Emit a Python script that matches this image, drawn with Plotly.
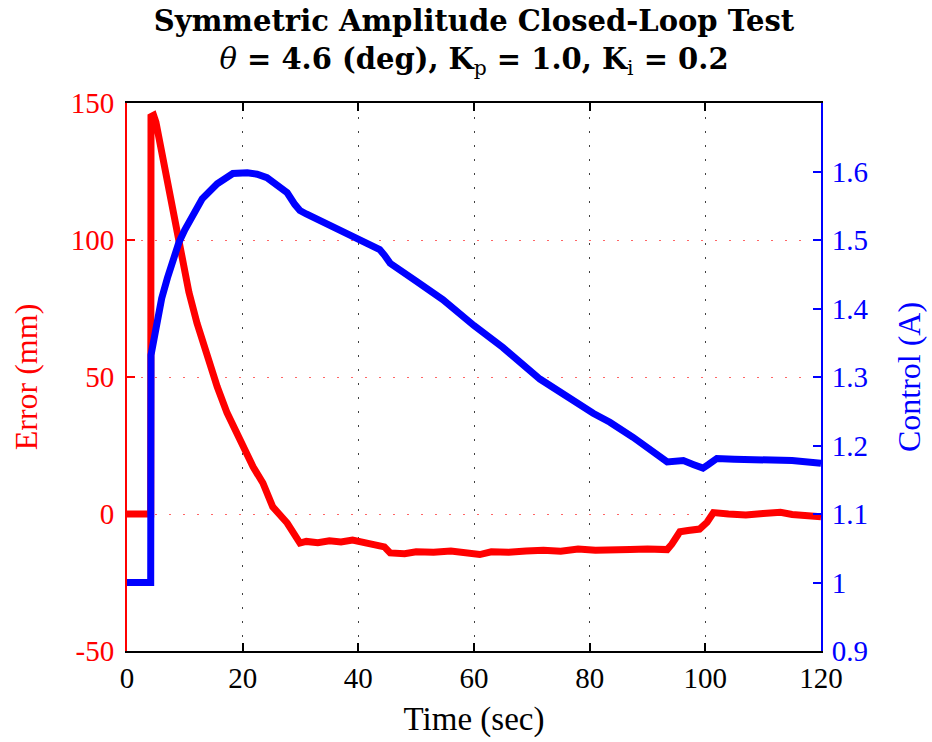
import plotly.graph_objects as go

# ---- data ----
t_err = [0, 4.1, 4.15, 4.6, 5.0, 5.7, 6.9, 8.0, 8.8, 9.7, 10.7, 12.1, 13.8, 15.6,
         17.3, 19.5, 21.8, 23.5, 25.2, 27.7, 29.9, 31, 33, 35, 37, 39, 41, 43,
         44.5, 45.5, 48, 50, 53, 56, 59, 61, 63, 66, 69, 72, 75, 78, 81, 84, 87,
         90, 92.5, 93.4, 94.2, 95.6, 97, 99, 100.3, 101.4, 104, 107, 110, 113,
         115, 118, 120]
err = [0, 0, 145, 145.5, 143, 135.5, 123, 111, 102.5, 93.8, 81, 69.7, 57.3, 46.4,
       36.9, 27, 17.2, 11.3, 2.6, -3.3, -10.6, -10, -10.5, -9.8, -10.2, -9.5,
       -10.4, -10.8, -12, -14.2, -14.5, -13.8, -14, -13.5, -14.2, -14.8, -13.8,
       -14, -13.5, -13.2, -13.6, -12.8, -13.2, -12.8, -13, -12.8, -13, -13, -11,
       -6.5, -6, -5.5, -3, 0.5, 0, -0.4, 0.2, 0.6, -0.2, -1, -1]

t_ctl = [0, 4.1, 4.15, 5.0, 6.0, 7.0, 8.0, 9.0, 10.0, 11.0, 13.0, 15.6, 18.3,
         20.8, 22.5, 24.2, 26, 27.7, 29.0, 29.9, 31, 33.4, 36.8, 40.8, 42.5,
         43.7, 44.5, 45.5, 50, 54.6, 60, 65, 71.4, 76.1, 80.6, 83.5, 87.5, 93.4,
         96.2, 98, 99.6, 100.5, 102, 105, 110, 115, 120]
ctl = [1.0, 1.0, 1.332, 1.375, 1.415, 1.445, 1.472, 1.497, 1.515, 1.53, 1.56,
       1.582, 1.597, 1.598, 1.596, 1.591, 1.58, 1.569, 1.552, 1.543, 1.538,
       1.528, 1.514, 1.499, 1.492, 1.486, 1.478, 1.466, 1.44, 1.413, 1.375,
       1.343, 1.297, 1.270, 1.247, 1.234, 1.212, 1.176, 1.178, 1.172, 1.167,
       1.172, 1.181, 1.180, 1.179, 1.178, 1.174]

x_ticks = [0, 20, 40, 60, 80, 100, 120]
err_ticks = [-50, 0, 50, 100, 150]
err_labels = ["-50", "0", "50", "100", "150"]
ctl_ticks = [0.9, 1.0, 1.1, 1.2, 1.3, 1.4, 1.5, 1.6]
ctl_labels = ["0.9", "1", "1.1", "1.2", "1.3", "1.4", "1.5", "1.6"]

FONT = "Liberation Serif"
TFONT = "DejaVu Serif"
RED = "#ff0000"
BLUE = "#0000ff"

fig = go.Figure()
fig.add_trace(go.Scatter(x=t_err, y=err, mode="lines", yaxis="y",
                         line=dict(color=RED, width=7), showlegend=False))
fig.add_trace(go.Scatter(x=t_ctl, y=ctl, mode="lines", yaxis="y2",
                         line=dict(color=BLUE, width=7), showlegend=False))

fig.update_layout(
    width=932, height=742,
    margin=dict(l=127, r=111, t=103, b=91),
    paper_bgcolor="white", plot_bgcolor="white",
    font=dict(family=FONT, size=29, color="black"),
    title=dict(
        text="<b>Symmetric Amplitude Closed-Loop Test</b><br>"
             "<i>θ</i><b> = 4.6 (deg), K</b><sub>p</sub><b> = 1.0, K</b>"
             "<sub>i</sub><b> = 0.2</b>",
        x=0.5, xref="paper", xanchor="center",
        y=0.958, yref="container", yanchor="top",
        font=dict(family=TFONT, size=29, color="black"),
    ),
    xaxis=dict(
        range=[0, 120], tickvals=x_ticks, showline=True, linecolor="black",
        linewidth=2, mirror="ticks", ticks="inside", ticklen=8,
        tickcolor="black", tickwidth=1.5, showgrid=True,
        gridcolor="rgba(0,0,0,0.75)", griddash="2px,12px", gridwidth=1,
        zeroline=False, ticklabelstandoff=0,
        title=dict(text="Time (sec)", font=dict(size=33), standoff=14),
    ),
    yaxis=dict(
        range=[-50, 150], tickvals=err_ticks, ticktext=err_labels,
        showline=True, linecolor=RED,
        linewidth=2, ticks="inside", ticklen=8, tickcolor=RED, tickwidth=1.5,
        showgrid=True, gridcolor="rgba(255,0,0,0.6)", griddash="2px,12px",
        gridwidth=1, zeroline=False, tickfont=dict(color=RED),
        ticklabelstandoff=5,
        title=dict(text="Error (mm)", font=dict(size=32, color=RED),
                   standoff=24),
    ),
    yaxis2=dict(
        range=[0.9, 1.7], tickvals=ctl_ticks, ticktext=ctl_labels,
        overlaying="y", side="right", showline=True, linecolor=BLUE,
        linewidth=2, ticks="inside", ticklen=8, tickcolor=BLUE, tickwidth=1.5,
        showgrid=False, zeroline=False, tickfont=dict(color=BLUE),
        ticklabelstandoff=3,
        title=dict(text="Control (A)", font=dict(size=32, color=BLUE),
                   standoff=30),
    ),
)

fig.write_html("out.html")
